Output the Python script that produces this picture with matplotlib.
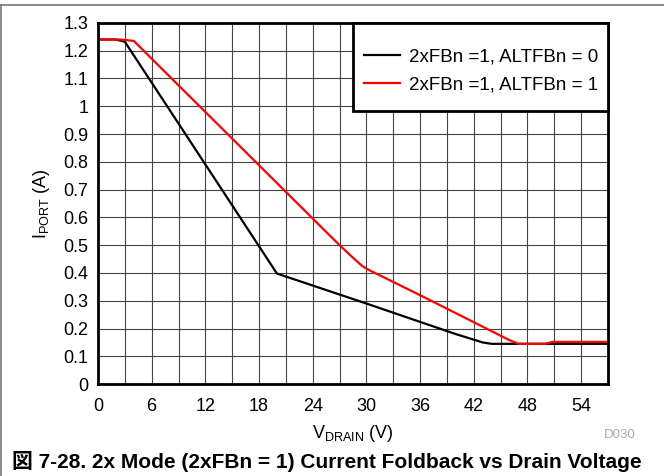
import matplotlib
matplotlib.use("Agg")
import matplotlib.pyplot as plt
from matplotlib.lines import Line2D
from matplotlib.patches import Rectangle

plt.rcParams['font.family'] = ['Liberation Sans', 'Noto Sans CJK JP', 'DejaVu Sans']
plt.rcParams['mathtext.fontset'] = 'custom'
plt.rcParams['mathtext.rm'] = 'Liberation Sans'

# data
vdrain_alt0 = [0, 2, 3, 20, 30, 40, 43, 44, 57]
iport_alt0 = [1.24, 1.24, 1.232, 0.398, 0.29, 0.18, 0.15, 0.145, 0.145]

vdrain_alt1 = [0, 2.5, 4, 27, 28.5, 29.5, 30.2, 36, 46, 47, 50, 50.8, 57]
iport_alt1 = [1.24, 1.24, 1.235, 0.50, 0.455, 0.426, 0.412, 0.32, 0.158, 0.145, 0.145, 0.152, 0.152]

labels = ['2xFBn =1, ALTFBn = 0', '2xFBn =1, ALTFBn = 1']
xticks = list(range(0, 55, 6))
yticks = [round(0.1 * i, 1) for i in range(14)]
ytick_labels = ['0', '0.1', '0.2', '0.3', '0.4', '0.5', '0.6', '0.7', '0.8', '0.9',
                '1', '1.1', '1.2', '1.3']

fig = plt.figure(figsize=(6.64, 4.76), dpi=100)
ax = fig.add_axes([0.1476, 0.193, 0.768, 0.759])

ax.plot(vdrain_alt0, iport_alt0, color='black', lw=1.6, label=labels[0])
ax.plot(vdrain_alt1, iport_alt1, color='#ff0000', lw=1.6, label=labels[1])

ax.set_xlim(0, 57)
ax.set_ylim(0, 1.3)
ax.set_xticks(xticks)
ax.set_xticks(range(0, 58, 3), minor=True)
ax.set_yticks(yticks)
ax.set_yticklabels(ytick_labels)
ax.grid(True, which='both', color='#444444', lw=0.8)
ax.tick_params(axis='x', which='both', length=0, labelsize=13, pad=10)
ax.tick_params(axis='y', which='both', length=0, labelsize=13, pad=7)
for s in ax.spines.values():
    s.set_linewidth(2)
ax.set_axisbelow(True)

ax.set_xlabel(r'$\mathregular{V_{DRAIN}}$ (V)', fontsize=13)
ax.set_ylabel(r'$\mathregular{I_{PORT}}$ (A)', fontsize=13)
ax.xaxis.set_label_coords(0.5, -0.108)
ax.yaxis.set_label_coords(-0.09, 0.5)

# legend box: square, thick border, flush with the top-right corner
ax.add_patch(Rectangle((0.5, 0.756), 0.5, 0.244, transform=ax.transAxes,
                       facecolor='white', edgecolor='black', lw=2, zorder=5, clip_on=False))
leg = ax.legend(loc='center', bbox_to_anchor=(0.752, 0.866), fontsize=13.5, frameon=False,
                handlelength=1.9, handletextpad=0.5, labelspacing=0.57)
leg.set_zorder(6)

fig.text(0.958, 0.086, 'D030', color='#aaaaaa', fontsize=9.5, ha='right', va='center')
fig.text(0.018, 0.03, '図 7-28. 2x Mode (2xFBn = 1) Current Foldback vs Drain Voltage',
         fontsize=15, fontweight='bold', ha='left', va='center')

# frame lines around the figure area
fig.add_artist(Line2D([0, 1], [0.99, 0.99], color='#777777', lw=1.2, transform=fig.transFigure))
fig.add_artist(Line2D([0.002, 0.002], [0.0, 0.99], color='#777777', lw=1.2, transform=fig.transFigure))

fig.savefig('out.png', dpi=100)
